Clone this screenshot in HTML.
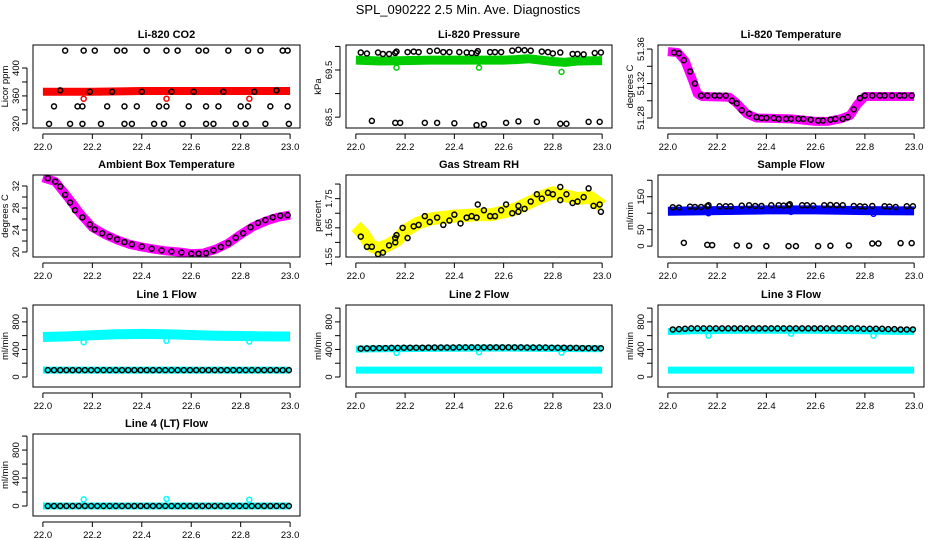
<!DOCTYPE html>
<html><head><meta charset="utf-8">
<style>
html,body{margin:0;padding:0;background:#fff;}
svg{display:block;font-family:"Liberation Sans",Arial,sans-serif;}
</style></head>
<body>
<svg id="chart" width="936" height="540" viewBox="0 0 936 540">
<text x="468" y="14" text-anchor="middle" font-size="13">SPL_090222  2.5 Min. Ave. Diagnostics</text>
</svg>
<script>
// ---- data arrays ----
const xTicks = [22.0,22.2,22.4,22.6,22.8,23.0];
const xTickLabels = ["22.0","22.2","22.4","22.6","22.8","23.0"];
const outlierT = [22.165,22.5,22.835];

// CO2
const co2BandT = [22.0,22.2,22.4,22.6,22.8,23.0];
const co2BandV = [366,366,367,367,367,367];
const co2BlackT = [22.09,22.165,22.21,22.30,22.33,22.42,22.50,22.545,22.63,22.66,22.75,22.83,22.88,22.97,22.99,
 22.045,22.14,22.16,22.26,22.33,22.38,22.47,22.50,22.59,22.66,22.71,22.80,22.83,22.92,22.99,
 22.025,22.11,22.16,22.235,22.33,22.36,22.45,22.49,22.565,22.66,22.69,22.78,22.82,22.90,22.995,
 22.07,22.19,22.28,22.40,22.52,22.61,22.73,22.855,22.945];
const co2BlackV = [425,425,425,425,425,425,425,425,425,425,425,425,425,425,425,
 345,345,345,345,345,345,345,345,345,345,345,345,345,345,345,
 320,320,320,320,320,320,320,320,320,320,320,320,320,320,320,
 368,366,366,366,366,366,366,366,368];
const co2OutV = [356,356,356];

// Pressure
const presBandT = [22.0,22.1,22.2,22.3,22.4,22.5,22.6,22.65,22.7,22.8,22.85,22.9,23.0];
const presBandV = [69.71,69.69,69.70,69.71,69.71,69.71,69.71,69.72,69.74,69.68,69.66,69.69,69.70];
const presBlackT = [22.02,22.045,22.09,22.11,22.135,22.16,22.165,22.21,22.235,22.255,22.30,22.33,22.355,22.38,22.42,22.45,22.47,22.49,22.495,22.545,22.565,22.59,22.635,22.66,22.685,22.71,22.755,22.78,22.80,22.83,22.88,22.90,22.925,22.97,22.995,
 22.065,22.16,22.18,22.28,22.33,22.40,22.49,22.52,22.61,22.66,22.735,22.83,22.855,22.945,22.99];
const presBlackV = [69.87,69.85,69.87,69.84,69.84,69.86,69.89,69.88,69.89,69.88,69.90,69.91,69.88,69.88,69.88,69.87,69.86,69.86,69.90,69.88,69.88,69.88,69.91,69.93,69.92,69.91,69.89,69.88,69.85,69.87,69.84,69.84,69.83,69.86,69.87,
 68.42,68.38,68.38,68.38,68.38,68.37,68.33,68.35,68.38,68.41,68.40,68.36,68.36,68.40,68.40];
const presOutV = [69.55,69.55,69.46];

// Li-820 temperature
const tempBandT = [22.0,22.04,22.07,22.1,22.12,22.14,22.25,22.28,22.32,22.36,22.5,22.6,22.65,22.7,22.74,22.77,22.8,23.0];
const tempBandV = [51.357,51.356,51.346,51.324,51.308,51.305,51.304,51.297,51.285,51.280,51.279,51.276,51.276,51.279,51.283,51.296,51.305,51.305];
const tempBlackT = [22.025,22.045,22.065,22.09,22.11,22.135,22.16,22.19,22.21,22.235,22.26,22.28,22.30,22.33,22.36,22.38,22.40,22.43,22.45,22.48,22.50,22.53,22.55,22.58,22.61,22.63,22.66,22.68,22.71,22.73,22.755,22.78,22.80,22.83,22.86,22.88,22.91,22.94,22.96,22.99];
const tempBlackV = [51.356,51.355,51.347,51.334,51.320,51.306,51.306,51.306,51.306,51.306,51.300,51.297,51.289,51.285,51.281,51.280,51.280,51.280,51.279,51.279,51.279,51.279,51.279,51.278,51.277,51.277,51.278,51.279,51.279,51.281,51.290,51.303,51.306,51.306,51.306,51.306,51.306,51.306,51.306,51.306];

// Ambient box temperature
const ambBandT = [22.0,22.05,22.1,22.15,22.2,22.25,22.3,22.35,22.4,22.45,22.5,22.55,22.6,22.65,22.7,22.75,22.8,22.85,22.9,22.95,23.0];
const ambBandV = [33.5,32.8,30.0,27.0,24.5,23.2,22.2,21.4,20.9,20.5,20.2,20.0,19.7,19.8,20.5,21.6,23.2,24.6,25.6,26.3,26.7];
const ambBlackT = [22.02,22.05,22.07,22.09,22.11,22.13,22.16,22.19,22.21,22.24,22.27,22.30,22.33,22.36,22.40,22.44,22.48,22.52,22.56,22.60,22.63,22.66,22.69,22.72,22.75,22.78,22.81,22.84,22.87,22.90,22.93,22.96,22.99];
const ambBlackV = [33.4,32.8,31.9,30.4,29.0,27.6,26.3,25.0,24.1,23.4,22.8,22.3,21.8,21.4,21.0,20.6,20.3,20.1,19.9,19.7,19.7,19.8,20.3,20.9,21.6,22.6,23.4,24.5,25.3,25.8,26.3,26.6,26.7];

// Gas stream RH
const rhBandT = [22.0,22.03,22.06,22.09,22.13,22.17,22.2,22.25,22.3,22.35,22.4,22.5,22.55,22.6,22.65,22.7,22.75,22.8,22.85,22.9,22.95,23.0];
const rhBandV = [1.655,1.63,1.59,1.578,1.59,1.61,1.64,1.665,1.68,1.685,1.69,1.695,1.695,1.705,1.715,1.735,1.755,1.77,1.76,1.75,1.755,1.725];
const rhBlackT = [22.02,22.045,22.065,22.09,22.11,22.135,22.16,22.16,22.165,22.19,22.21,22.235,22.255,22.28,22.30,22.33,22.355,22.38,22.40,22.425,22.45,22.47,22.49,22.495,22.52,22.545,22.565,22.59,22.61,22.635,22.66,22.66,22.685,22.71,22.735,22.755,22.78,22.80,22.83,22.83,22.855,22.88,22.90,22.925,22.945,22.965,22.99,22.995];
const rhBlackV = [1.62,1.585,1.585,1.56,1.565,1.59,1.60,1.615,1.625,1.65,1.615,1.655,1.66,1.69,1.67,1.685,1.66,1.675,1.695,1.665,1.685,1.69,1.685,1.73,1.71,1.69,1.69,1.71,1.73,1.70,1.725,1.705,1.715,1.74,1.765,1.75,1.77,1.765,1.79,1.745,1.765,1.735,1.74,1.755,1.785,1.725,1.73,1.705];

// Sample flow
const sfBandT = [22.0,22.2,22.4,22.6,22.8,23.0];
const sfBandV = [106,108,110,110,108,107];
const sfBlackV = [118,117,120,119,119,121,124,121,121,121,123,124,122,122,124,124,123,124,127,124,124,123,124,125,124,124,122,121,120,122,121,120,119,121,121,
 10,4,3,2,1,0,0,0,0,1,2,8,8,9,9];
const sfOutV = [100,104,98];

// Line flows
const lineBlackT = [22.02,22.045,22.07,22.095,22.12,22.145,22.17,22.195,22.22,22.245,22.27,22.295,22.32,22.345,22.37,22.395,22.42,22.445,22.47,22.495,22.52,22.545,22.57,22.595,22.62,22.645,22.67,22.695,22.72,22.745,22.77,22.795,22.82,22.845,22.87,22.895,22.92,22.945,22.97,22.995];
const line1BlackV = [100,100,100,100,100,100,100,100,100,100,100,100,100,100,100,100,100,100,100,100,100,100,100,100,100,100,100,100,100,100,100,100,100,100,100,100,100,100,100,100];
const line1UpperT = [22.0,22.1,22.2,22.3,22.4,22.5,22.6,22.7,22.8,22.9,23.0];
const line1UpperV = [580,590,605,620,625,620,610,600,595,590,588];
const line1LowerV = [100,100,100,100,100,100,100,100,100,100,100];
const line1OutV = [505,525,515];

const line2BlackV = [412,415,418,420,420,422,422,425,425,425,425,427,428,428,428,428,430,430,430,430,430,430,430,430,430,430,430,428,428,428,428,425,425,425,422,422,420,420,418,418];
const line2UpperV = [405,410,412,415,418,420,420,418,415,412,410];
const line2LowerV = [100,100,100,100,100,100,100,100,100,100,100];
const line2OutV = [350,360,355];

const line3BlackV = [690,695,700,705,705,705,705,705,705,705,705,705,705,705,705,705,705,705,705,705,705,705,705,705,705,705,705,705,705,705,705,700,700,700,700,695,695,690,690,690];
const line3UpperV = [660,670,675,680,680,680,680,675,670,665,660];
const line3LowerV = [100,100,100,100,100,100,100,100,100,100,100];
const line3OutV = [600,630,600];

const line4BlackV = [0,0,0,0,0,0,0,0,0,0,0,0,0,0,0,0,0,0,0,0,0,0,0,0,0,0,0,0,0,0,0,0,0,0,0,0,0,0,0,0];
const line4BandV = [0,0,0,0,0,0,0,0,0,0,0];
const line4OutV = [95,100,90];

// ---- drawing ----
const NS = "http://www.w3.org/2000/svg";
const svg = document.getElementById("chart");
function mk(tag, attrs, parent){
  const e = document.createElementNS(NS, tag);
  for (const k in attrs) e.setAttribute(k, attrs[k]);
  (parent||svg).appendChild(e);
  return e;
}
function makePanel(p){
  const g = mk("g", {});
  
  
  const xs = t => p.x0 + (t - 21.96) / 1.08 * (p.x1 - p.x0);
  const ys = v => p.y1 - (v - p.ymin) / (p.ymax - p.ymin) * (p.y1 - p.y0);
  p.xs = xs; p.ys = ys; p.g = g;
  const t = mk("text", {x:(p.x0+p.x1)/2, y:p.y0-7, "text-anchor":"middle", "font-size":"11", "font-weight":"bold"}, g);
  t.textContent = p.title;
  
  
  const xa = mk("g", {}, g);
  
  
  mk("line", {x1:xs(xTicks[0]), x2:xs(xTicks[xTicks.length-1]), y1:p.y1+6, y2:p.y1+6, stroke:"#000"}, xa);
  xTicks.forEach((v,i)=>{
    mk("line", {x1:xs(v), x2:xs(v), y1:p.y1+6, y2:p.y1+11, stroke:"#000"}, xa);
    const l = mk("text", {x:xs(v), y:p.y1+22, "text-anchor":"middle", "font-size":"9.5"}, xa);
    l.textContent = xTickLabels[i];
    
    
  });
  const ya = mk("g", {}, g);
  
  
  const ax = p.x0 - 6;
  mk("line", {x1:ax, x2:ax, y1:ys(p.yticks[0]), y2:ys(p.yticks[p.yticks.length-1]), stroke:"#000"}, ya);
  p.yticks.forEach(v=>{
    mk("line", {x1:ax-5, x2:ax, y1:ys(v), y2:ys(v), stroke:"#000"}, ya);
  });
  p.ylabels.forEach((v,i)=>{
    const yy = ys(v);
    const l = mk("text", {x:0, y:0, transform:`translate(${ax-8},${yy}) rotate(-90)`, "text-anchor":"middle", "font-size":"9.5"}, ya);
    l.textContent = p.ylabelText[i];
    
    
  });
  const yt = mk("text", {x:0, y:0, transform:`translate(${p.x0-25},${(p.y0+p.y1)/2}) rotate(-90)`, "text-anchor":"middle", "font-size":"9.5"}, g);
  yt.textContent = p.ytitle;
  
  
  const cid = "clip-" + p.name;
  const cp = mk("clipPath", {id:cid}, g);
  mk("rect", {x:p.x0, y:p.y0, width:p.x1-p.x0, height:p.y1-p.y0}, cp);
  p.plot = mk("g", {"clip-path":`url(#${cid})`}, g);
  return p;
}
function finishPanel(p){
  const r = mk("rect", {x:p.x0, y:p.y0, width:p.x1-p.x0, height:p.y1-p.y0, fill:"none", stroke:"#000", "stroke-width":"1"}, p.g);
  
  
}
function band(p, T, V, color, w, name){
  const pts = T.map((t,i)=> p.xs(t).toFixed(1)+","+p.ys(V[i]).toFixed(1)).join(" ");
  const pl = mk("polyline", {points:pts, fill:"none", stroke:color, "stroke-width":w, "stroke-linejoin":"round", "stroke-linecap":"butt"}, p.plot);
  
  
}
function pts(p, T, V, color, name){
  T.forEach((t,i)=>{
    const c = mk("circle", {cx:p.xs(t), cy:p.ys(V[i]), r:2.5, fill:"none", stroke:color, "stroke-width":"1.5"}, p.plot);
    
    
  });
}
const C1=[33,300], C2=[346,612], C3=[658,924];
const R1=[45,128], R2=[175,257], R3=[305,387], R4=[434,516];
const lineTicks=[0,200,400,600,800,1000], lineLab=[0,400,800], lineLabT=["0","400","800"];

let p;
p = makePanel({name:"co2", title:"Li-820 CO2", x0:C1[0], x1:C1[1], y0:R1[0], y1:R1[1], ymin:314, ymax:433,
  yticks:[320,340,360,380,400], ylabels:[320,360,400], ylabelText:["320","360","400"], ytitle:"Licor ppm"});
band(p, co2BandT, co2BandV, "#ff0000", 8, "co2-series");
pts(p, outlierT, co2OutV, "#ff0000", "co2-outlier");
pts(p, co2BlackT, co2BlackV, "#000", "co2-avg-point");
finishPanel(p);

p = makePanel({name:"pressure", title:"Li-820 Pressure", x0:C2[0], x1:C2[1], y0:R1[0], y1:R1[1], ymin:68.27, ymax:70.03,
  yticks:[68.5,69.0,69.5,70.0], ylabels:[68.5,69.5], ylabelText:["68.5","69.5"], ytitle:"kPa"});
band(p, presBandT, presBandV, "#00cc00", 9, "pressure-series");
pts(p, outlierT, presOutV, "#00cc00", "pressure-outlier");
pts(p, presBlackT, presBlackV, "#000", "pressure-avg-point");
finishPanel(p);

p = makePanel({name:"li820-temp", title:"Li-820 Temperature", x0:C3[0], x1:C3[1], y0:R1[0], y1:R1[1], ymin:51.2684, ymax:51.3647,
  yticks:[51.28,51.30,51.32,51.34,51.36], ylabels:[51.28,51.32,51.36], ylabelText:["51.28","51.32","51.36"], ytitle:"degrees C"});
band(p, tempBandT, tempBandV, "#ff00ff", 9, "li820-temp-series");
pts(p, tempBlackT, tempBlackV, "#000", "li820-temp-avg-point");
finishPanel(p);

p = makePanel({name:"ambient-temp", title:"Ambient Box Temperature", x0:C1[0], x1:C1[1], y0:R2[0], y1:R2[1], ymin:19.09, ymax:34.0,
  yticks:[20,22,24,26,28,30,32], ylabels:[20,24,28,32], ylabelText:["20","24","28","32"], ytitle:"degrees C"});
band(p, ambBandT, ambBandV, "#ff00ff", 9, "ambient-temp-series");
pts(p, ambBlackT, ambBlackV, "#000", "ambient-temp-avg-point");
finishPanel(p);

p = makePanel({name:"rh", title:"Gas Stream RH", x0:C2[0], x1:C2[1], y0:R2[0], y1:R2[1], ymin:1.55, ymax:1.831,
  yticks:[1.55,1.60,1.65,1.70,1.75,1.80], ylabels:[1.55,1.65,1.75], ylabelText:["1.55","1.65","1.75"], ytitle:"percent"});
band(p, rhBandT, rhBandV, "#ffff00", 13, "rh-series");
pts(p, rhBlackT, rhBlackV, "#000", "rh-avg-point");
finishPanel(p);

p = makePanel({name:"sample-flow", title:"Sample Flow", x0:C3[0], x1:C3[1], y0:R2[0], y1:R2[1], ymin:-33, ymax:216,
  yticks:[0,50,100,150,200], ylabels:[0,50,150], ylabelText:["0","50","150"], ytitle:"ml/min"});
band(p, sfBandT, sfBandV, "#0000ff", 9, "sample-flow-series");
pts(p, outlierT, sfOutV, "#0000ff", "sample-flow-outlier");
pts(p, presBlackT, sfBlackV, "#000", "sample-flow-avg-point");
finishPanel(p);

p = makePanel({name:"line1-flow", title:"Line 1 Flow", x0:C1[0], x1:C1[1], y0:R3[0], y1:R3[1], ymin:-145, ymax:1045,
  yticks:lineTicks, ylabels:lineLab, ylabelText:lineLabT, ytitle:"ml/min"});
band(p, line1UpperT, line1UpperV, "#00ffff", 10, "line1-flow-upper-series");
band(p, line1UpperT, line1LowerV, "#00ffff", 7, "line1-flow-lower-series");
pts(p, outlierT, line1OutV, "#00ffff", "line1-flow-outlier");
pts(p, lineBlackT, line1BlackV, "#000", "line1-flow-avg-point");
finishPanel(p);

p = makePanel({name:"line2-flow", title:"Line 2 Flow", x0:C2[0], x1:C2[1], y0:R3[0], y1:R3[1], ymin:-145, ymax:1045,
  yticks:lineTicks, ylabels:lineLab, ylabelText:lineLabT, ytitle:"ml/min"});
band(p, line1UpperT, line2UpperV, "#00ffff", 7, "line2-flow-upper-series");
band(p, line1UpperT, line2LowerV, "#00ffff", 7, "line2-flow-lower-series");
pts(p, outlierT, line2OutV, "#00ffff", "line2-flow-outlier");
pts(p, lineBlackT, line2BlackV, "#000", "line2-flow-avg-point");
finishPanel(p);

p = makePanel({name:"line3-flow", title:"Line 3 Flow", x0:C3[0], x1:C3[1], y0:R3[0], y1:R3[1], ymin:-145, ymax:1045,
  yticks:lineTicks, ylabels:lineLab, ylabelText:lineLabT, ytitle:"ml/min"});
band(p, line1UpperT, line3UpperV, "#00ffff", 7, "line3-flow-upper-series");
band(p, line1UpperT, line3LowerV, "#00ffff", 7, "line3-flow-lower-series");
pts(p, outlierT, line3OutV, "#00ffff", "line3-flow-outlier");
pts(p, lineBlackT, line3BlackV, "#000", "line3-flow-avg-point");
finishPanel(p);

p = makePanel({name:"line4-flow", title:"Line 4 (LT) Flow", x0:C1[0], x1:C1[1], y0:R4[0], y1:R4[1], ymin:-143, ymax:1030,
  yticks:lineTicks, ylabels:lineLab, ylabelText:lineLabT, ytitle:"ml/min"});
band(p, line1UpperT, line4BandV, "#00ffff", 7, "line4-flow-series");
pts(p, outlierT, line4OutV, "#00ffff", "line4-flow-outlier");
pts(p, lineBlackT, line4BlackV, "#000", "line4-flow-avg-point");
finishPanel(p);
</script>
</body></html>
